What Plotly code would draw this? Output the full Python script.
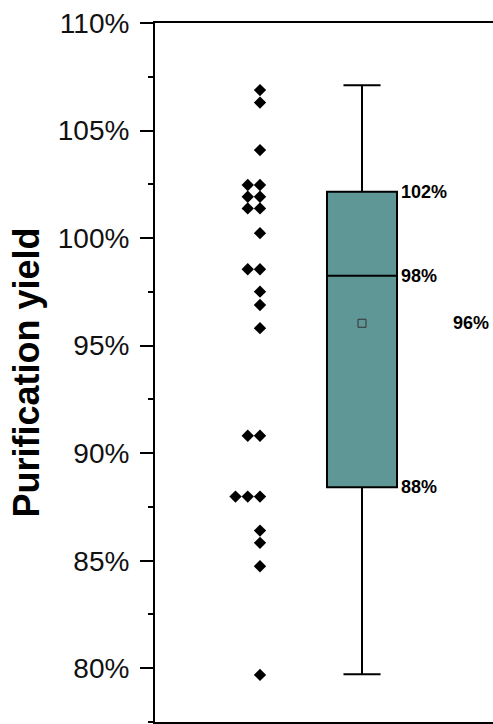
import plotly.graph_objects as go
from collections import Counter

# ---- data ----
yield_values = [106.88, 106.30, 104.09, 102.47, 102.47, 101.92, 101.92,
                101.38, 101.38, 100.23, 98.55, 98.55, 97.51, 96.89, 95.81,
                90.81, 90.81, 87.98, 87.98, 87.98, 86.40, 85.83, 84.74, 79.69]
box_q1 = [88.41]
box_median = [98.25]
box_q3 = [102.15]
box_lower = [79.72]
box_upper = [107.11]
box_mean = [96.04]
y_tick_values = [80, 85, 90, 95, 100, 105, 110]
y_tick_labels = [f"{v}%" for v in y_tick_values]

POINT_X = 0.0
BOX_X = 1.0
BOX_W = 0.686
DUP_STEP = 0.12

# stack duplicate values leftwards
seen = Counter()
px = []
for v in yield_values:
    k = seen[v]
    seen[v] += 1
    px.append(POINT_X - k * DUP_STEP)

FONT = "Liberation Sans, Arial, sans-serif"

fig = go.Figure()
fig.add_trace(go.Scatter(
    x=px, y=yield_values, mode="markers",
    marker=dict(symbol="diamond", size=9.5, color="black", line=dict(width=0)),
    showlegend=False, hoverinfo="y"))

fig.add_trace(go.Box(
    x=[BOX_X], q1=box_q1, median=box_median, q3=box_q3,
    lowerfence=box_lower, upperfence=box_upper,
    width=BOX_W, whiskerwidth=0.53, boxpoints=False,
    fillcolor="#5F9696", line=dict(color="black", width=2),
    showlegend=False))

fig.add_trace(go.Scatter(
    x=[BOX_X], y=box_mean, mode="markers",
    marker=dict(symbol="square-open", size=8, color="#333333", line=dict(width=1)),
    showlegend=False))

font_lbl = dict(family=FONT, size=18, color="black")
for v in [box_q3[0], box_median[0], box_q1[0]]:
    fig.add_annotation(x=BOX_X + BOX_W / 2, y=v, xref="x", yref="y",
                       text=f"<b>{v:.0f}%</b>", showarrow=False,
                       xanchor="left", yanchor="middle", xshift=2, font=font_lbl)
fig.add_annotation(x=BOX_X + 0.875, y=box_mean[0], xref="x", yref="y",
                   text=f"<b>{box_mean[0]:.0f}%</b>", showarrow=False,
                   xanchor="left", yanchor="middle", font=font_lbl)

fig.update_layout(
    width=493, height=724,
    margin=dict(l=155, r=0, t=23, b=2),
    paper_bgcolor="white", plot_bgcolor="white",
    font=dict(family=FONT, color="black"),
    xaxis=dict(range=[-1.029, 2.284], showline=True, mirror=True,
               linecolor="black", linewidth=2, showticklabels=False,
               ticks="", showgrid=False, zeroline=False),
    yaxis=dict(range=[77.5, 110], showline=True, linecolor="black", linewidth=2,
               tickvals=y_tick_values, ticktext=y_tick_labels,
               ticks="outside", ticklen=13, tickwidth=2, tickcolor="black",
               ticklabelstandoff=5,
               tickfont=dict(size=28, color="#111111"),
               minor=dict(dtick=2.5, tick0=77.5, ticks="outside", ticklen=5,
                          tickwidth=2, tickcolor="black", showgrid=False),
               showgrid=False, zeroline=False, automargin=False,
               title=dict(text="<b>Purification yield</b>",
                          font=dict(size=36, color="black"), standoff=7)),
)

fig.write_html("out.html", config={"displayModeBar": False},
               post_script="document.body.style.margin='0px';document.body.style.overflow='hidden';")
